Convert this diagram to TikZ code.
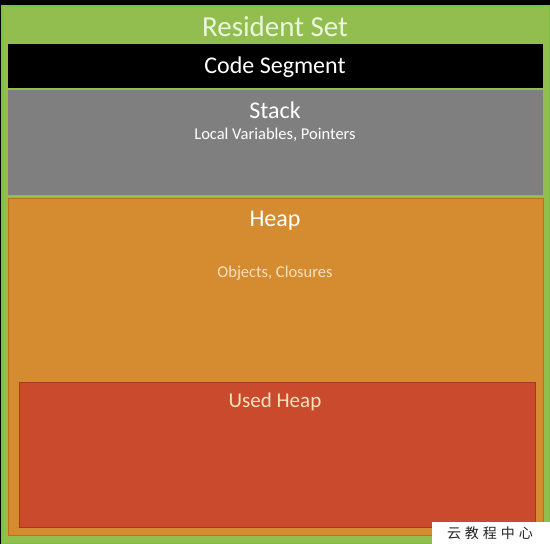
\documentclass[tikz,border=0pt]{standalone}
\usepackage{fontspec}
\setmainfont{Carlito}
\newfontfamily\cjkfont{Noto Sans CJK SC}
\usetikzlibrary{positioning}
\definecolor{setgreen}{RGB}{146,190,80}
\definecolor{setedge}{RGB}{120,196,66}
\definecolor{settext}{RGB}{236,246,220}
\definecolor{stackgray}{RGB}{127,127,127}
\definecolor{heaporange}{RGB}{213,139,47}
\definecolor{heapedge}{RGB}{190,110,30}
\definecolor{usedred}{RGB}{201,74,44}
\definecolor{usededge}{RGB}{170,55,30}
\definecolor{subtext}{RGB}{250,225,190}
\tikzset{
  box/.style={rectangle, inner sep=0pt, anchor=north west},
  title/.style={text=white, font=\fontsize{24}{28}\selectfont, inner sep=0pt, anchor=base},
  small/.style={text=white, font=\fontsize{16.5}{19}\selectfont, inner sep=0pt, anchor=base}
}
\begin{document}
\begin{tikzpicture}[x=1pt, y=-1pt]
    \useasboundingbox (0,0) rectangle (550,544);
    \fill[black] (0,0) rectangle (550,544);

    \node[box, fill=setgreen, draw=setedge, line width=2pt, minimum width=548pt, minimum height=538pt] (set) at (1,5) {};
    \node[box, fill=black, minimum width=535pt, minimum height=44pt] (code) at (8,44) {};
    \node[box, fill=stackgray, minimum width=535pt, minimum height=105pt] (stack) at (8,90) {};
    \node[box, fill=heaporange, draw=heapedge, line width=1pt, minimum width=535pt, minimum height=337pt] (heap) at (8,198) {};
    \node[box, fill=usedred, draw=usededge, line width=1pt, minimum width=516pt, minimum height=145pt] (used) at (19,382) {};

    \node[title, font=\fontsize{29}{33}\selectfont, text=settext] (settitle) at (275,36) {Resident Set};
    \node[title] (codetitle) at (275,73) {Code Segment};
    \node[title] (stacktitle) at (275,118) {Stack};
    \node[small] (stacknote) at (275,139) {Local Variables, Pointers};
    \node[title] (heaptitle) at (275,226) {Heap};
    \node[small, text=subtext] (heapnote) at (275,277) {Objects, Closures};
    \node[title, font=\fontsize{21}{25}\selectfont, text=subtext] (usedtitle) at (275,407) {Used Heap};

    \node[box, fill=white, minimum width=118pt, minimum height=22pt] (mark) at (432,522) {};
    \node[inner sep=0pt, text=black!85, font=\cjkfont\fontsize{14}{16}\selectfont] (marktext) at (490,533) {云\hspace{4pt}教\hspace{4pt}程\hspace{4pt}中\hspace{4pt}心};
\end{tikzpicture}
\end{document}
